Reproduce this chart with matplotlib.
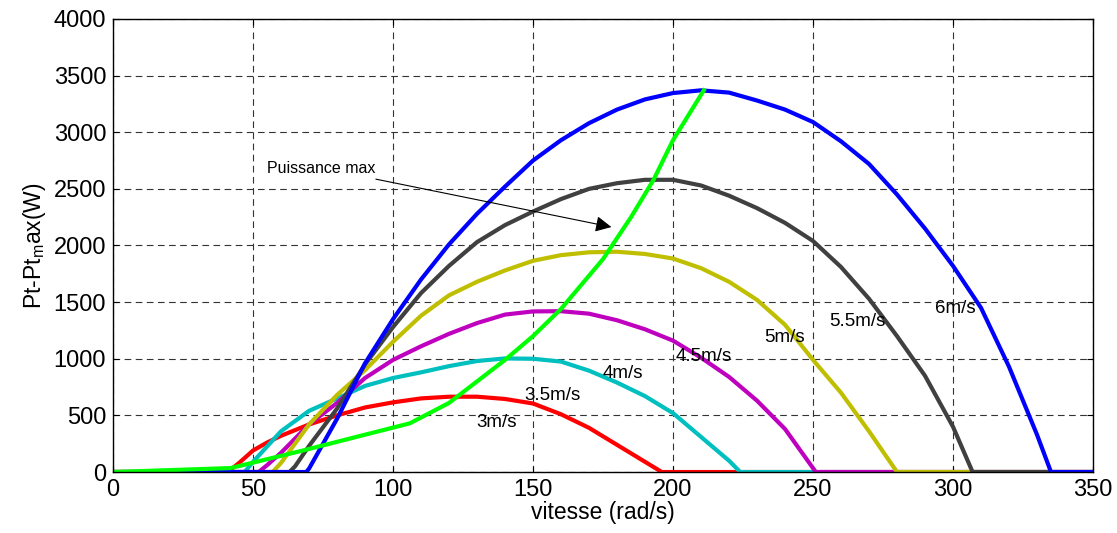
import matplotlib
matplotlib.use("Agg")
import matplotlib.pyplot as plt

plt.rcParams["font.family"] = ["Liberation Sans", "DejaVu Sans"]
plt.rcParams["mathtext.fontset"] = "custom"
plt.rcParams["mathtext.rm"] = "Liberation Sans"
plt.rcParams["mathtext.it"] = "Liberation Sans"

# power curves, speed (rad/s) vs power (W)
w_3 = [0, 41, 45, 50, 55, 60, 70, 80, 90, 100, 110, 120, 130, 140, 150, 160, 170, 180, 190, 196, 350]
p_3 = [0, 0, 80, 190, 260, 320, 420, 500, 570, 615, 650, 665, 665, 645, 605, 510, 390, 240, 90, 0, 0]

w_35 = [0, 47, 50, 60, 70, 80, 90, 100, 110, 120, 130, 140, 150, 160, 170, 180, 190, 200, 210, 220, 224, 350]
p_35 = [0, 0, 90, 360, 540, 650, 760, 830, 880, 935, 980, 1003, 1000, 975, 895, 790, 670, 520, 310, 100, 0, 0]

w_4 = [0, 52, 55, 60, 70, 80, 90, 100, 110, 120, 130, 140, 150, 160, 170, 180, 190, 200, 210, 220, 230, 240, 251, 350]
p_4 = [0, 0, 60, 170, 420, 610, 830, 990, 1110, 1220, 1315, 1390, 1418, 1420, 1398, 1340, 1260, 1160, 1010, 840, 630, 380, 0, 0]

w_45 = [0, 57, 60, 70, 80, 90, 100, 110, 120, 130, 140, 150, 160, 170, 180, 190, 200, 210, 220, 230, 240, 250, 260, 270, 280, 350]
p_45 = [0, 0, 80, 420, 680, 900, 1150, 1380, 1560, 1680, 1780, 1865, 1915, 1940, 1945, 1925, 1885, 1800, 1680, 1520, 1300, 990, 700, 360, 0, 0]

w_5 = [0, 63, 65, 70, 80, 90, 100, 110, 120, 130, 140, 150, 160, 170, 180, 190, 200, 210, 220, 230, 240, 250, 260, 270, 280, 290, 300, 307, 350]
p_5 = [0, 0, 50, 230, 560, 950, 1280, 1580, 1820, 2030, 2180, 2300, 2410, 2500, 2550, 2580, 2580, 2530, 2440, 2330, 2200, 2040, 1810, 1530, 1200, 850, 400, 0, 0]

w_55 = [0, 69, 70, 80, 90, 100, 110, 120, 130, 140, 150, 160, 170, 180, 190, 200, 210, 220, 230, 240, 250, 260, 270, 280, 290, 300, 310, 320, 330, 335, 350]
p_55 = [0, 0, 30, 470, 960, 1350, 1700, 2010, 2280, 2520, 2750, 2930, 3080, 3200, 3290, 3346, 3370, 3350, 3280, 3200, 3090, 2920, 2720, 2450, 2150, 1820, 1450, 930, 330, 0, 0]

# max power (optimal) curve
w_max = [0, 42, 67, 106, 120, 140, 150, 160, 175, 185, 193, 200, 211]
p_max = [0, 35, 185, 430, 610, 990, 1200, 1440, 1880, 2250, 2578, 2930, 3370]

curves = [
    (w_3, p_3, "#ff0000"),
    (w_35, p_35, "#00bfbf"),
    (w_4, p_4, "#bf00bf"),
    (w_45, p_45, "#bfbf00"),
    (w_5, p_5, "#404040"),
    (w_55, p_55, "#0000ff"),
]

labels = ["3m/s", "3.5m/s", "4m/s", "4.5m/s", "5m/s", "5.5m/s", "6m/s"]
label_x = [137, 157, 182, 211, 240, 266, 301]
label_y = [433, 680, 874, 1024, 1192, 1325, 1448]

fig = plt.figure(figsize=(11.17, 5.33), dpi=100)
ax = fig.add_axes([0.1012, 0.1144, 0.8773, 0.85])

for w, p, c in curves:
    ax.plot(w, p, color=c, linewidth=3.0, solid_joinstyle="round")
ax.plot(w_max, p_max, color="#00ff00", linewidth=3.0)

for txt, x, y in zip(labels, label_x, label_y):
    ax.text(x, y, txt, fontsize=13.5, ha="center", va="center")

ax.annotate("Puissance max", xy=(178, 2163), xytext=(55, 2684),
            fontsize=11.5, va="center", ha="left",
            arrowprops=dict(arrowstyle="-|>", color="black", lw=0.8,
                            mutation_scale=24, shrinkA=3, shrinkB=0))

ax.set_xlim(0, 350)
ax.set_ylim(0, 4000)
ax.set_xticks(range(0, 351, 50))
ax.set_yticks(range(0, 4001, 500))
ax.tick_params(direction="in", top=True, right=True, labelsize=17, length=4, pad=5)
ax.grid(True, color="#333333", linestyle=(0, (6, 4)), linewidth=0.8)
for s in ax.spines.values():
    s.set_linewidth(1.0)

ax.set_xlabel("vitesse (rad/s)", fontsize=16.5, labelpad=0)
ax.set_ylabel("Pt-Pt$_{\\mathrm{m}}$ax(W)", fontsize=16.5, labelpad=4)

fig.savefig("out.png", dpi=100)
